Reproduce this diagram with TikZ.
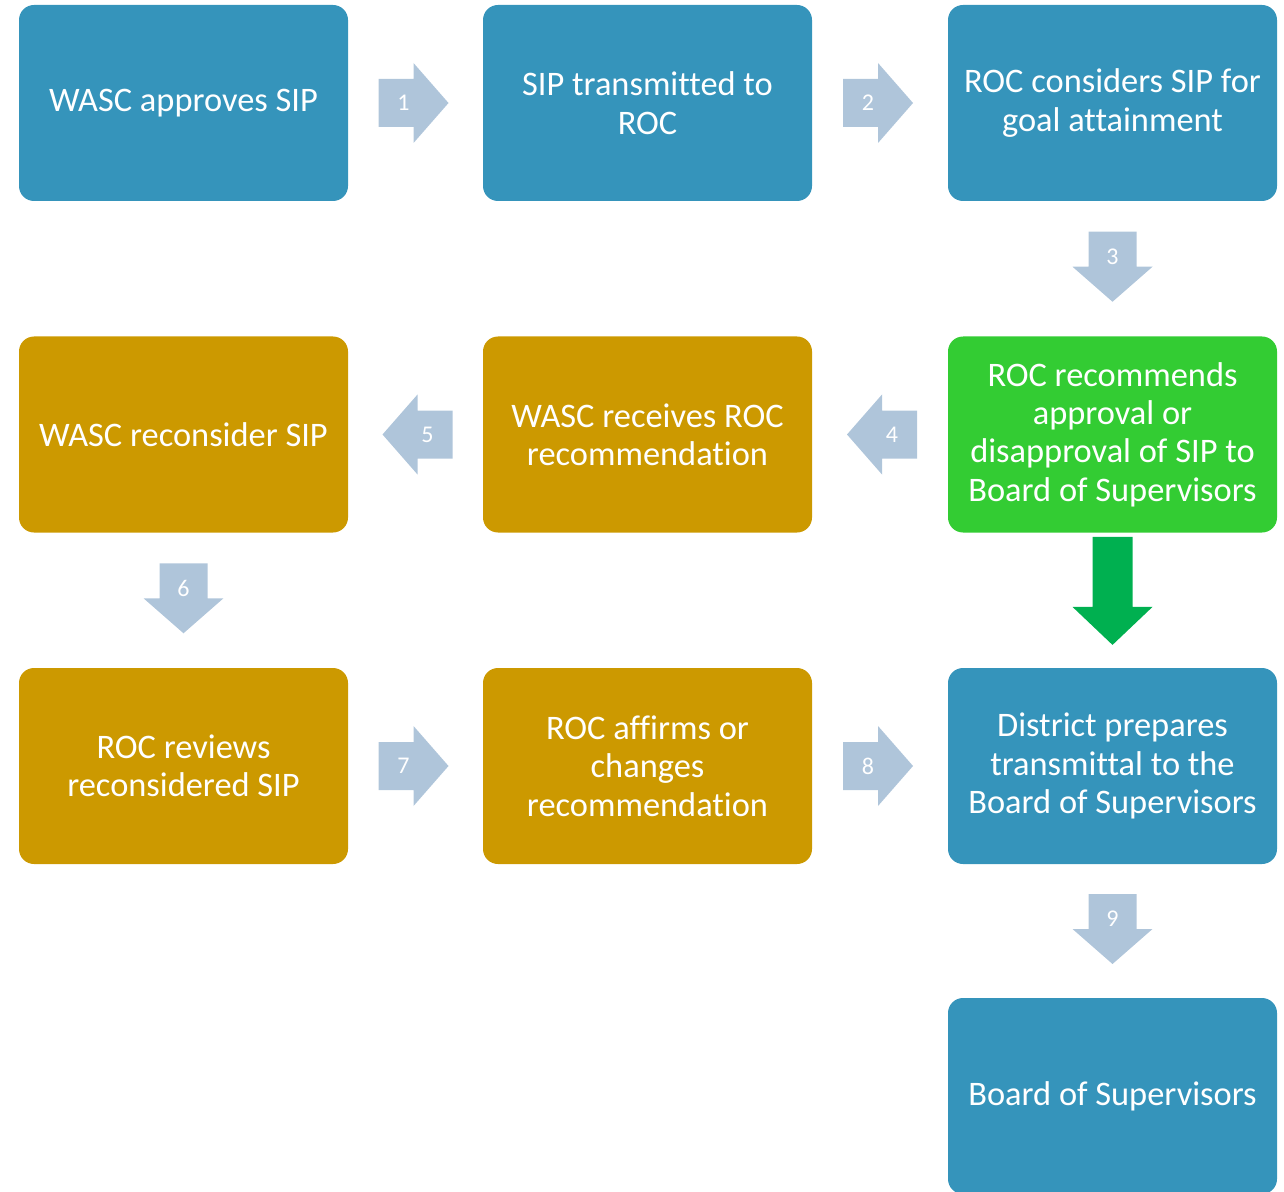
\documentclass[tikz,border=0pt]{standalone}
\usepackage{fontspec}
\setmainfont{Carlito}[Ligatures=NoCommon]
\usepackage{xcolor}
\usepackage{tikz}
\usetikzlibrary{positioning}
\usetikzlibrary{calc}
\definecolor{boxblue}{HTML}{3594BB}
\definecolor{boxgold}{HTML}{CC9900}
\definecolor{boxgreen}{HTML}{33CC33}
\definecolor{arrowgrey}{HTML}{AFC5DA}
\definecolor{arrowgreen}{HTML}{00B050}

\begin{document}
\begin{tikzpicture}[x=0.5pt, y=-0.5pt,
    stepbox/.style={rectangle, rounded corners=7.5pt, minimum width=164.5pt, minimum height=98pt,
        inner sep=0pt, align=center, text=white, font=\fontsize{17.2}{19.2}\selectfont},
    numtext/.style={text=white, inner sep=0pt, font=\fontsize{12}{14}\selectfont},
    pics/flowarrow/.style={code={
        \fill[arrowgrey] (-35,-24) -- (0,-24) -- (0,-40) -- (35,0) -- (0,40) -- (0,24) -- (-35,24) -- cycle;
        \node[numtext] at (-10,0) {#1};
    }},
    pics/bigarrow/.style={code={
        \fill[arrowgreen] (-20,4) -- (20,4) -- (20,74) -- (40,74) -- (0,112) -- (-40,74) -- (-20,74) -- (-20,4) -- cycle;
    }}]
    % keep the page size of the reference
    \useasboundingbox (0,0) rectangle (1284,1192);

    % Row 1
    \node[stepbox, fill=boxblue] (wasc) at (183.5,103) {WASC approves SIP};
    \node[stepbox, fill=boxblue] (sip) at (647.5,103) {SIP transmitted to\\ROC};
    \node[stepbox, fill=boxblue] (goal) at (1112.5,103) {ROC considers SIP for\\goal attainment};
    % Row 2
    \node[stepbox, fill=boxgold] (recon) at (183.5,434.5) {WASC reconsider SIP};
    \node[stepbox, fill=boxgold] (receive) at (647.5,434.5) {WASC receives ROC\\recommendation};
    \node[stepbox, fill=boxgreen] (rec) at (1112.5,434.5) {ROC recommends\\approval or\\disapproval of SIP to\\Board of Supervisors};
    % Row 3
    \node[stepbox, fill=boxgold] (review) at (183.5,766) {ROC reviews\\reconsidered SIP};
    \node[stepbox, fill=boxgold] (affirm) at (647.5,766) {ROC affirms or\\changes\\recommendation};
    \node[stepbox, fill=boxblue] (district) at (1112.5,766) {District prepares\\transmittal to the\\Board of Supervisors};
    % Row 4
    \node[stepbox, fill=boxblue] (board) at (1112.5,1096) {Board of Supervisors};

    % Arrows
    \pic at ($(wasc.east)!0.5!(sip.west)+(-2,0)$) {flowarrow=1};
    \pic at ($(sip.east)!0.5!(goal.west)+(-2,0)$) {flowarrow=2};
    \pic[rotate=-90] at ($(goal.south)!0.5!(rec.north)+(0,-2)$) {flowarrow=3};
    \pic[rotate=180] at ($(receive.east)!0.5!(rec.west)+(2,0)$) {flowarrow=4};
    \pic[rotate=180] at ($(recon.east)!0.5!(receive.west)+(2,0)$) {flowarrow=5};
    \pic[rotate=-90] at ($(recon.south)!0.5!(review.north)+(0,-2)$) {flowarrow=6};
    \pic at ($(review.east)!0.5!(affirm.west)+(-2,0)$) {flowarrow=7};
    \pic at ($(affirm.east)!0.5!(district.west)+(-2,0)$) {flowarrow=8};
    \pic[rotate=-90] at ($(district.south)!0.5!(board.north)+(0,-2)$) {flowarrow=9};
    \pic at (rec.south) {bigarrow};
\end{tikzpicture}
\end{document}
